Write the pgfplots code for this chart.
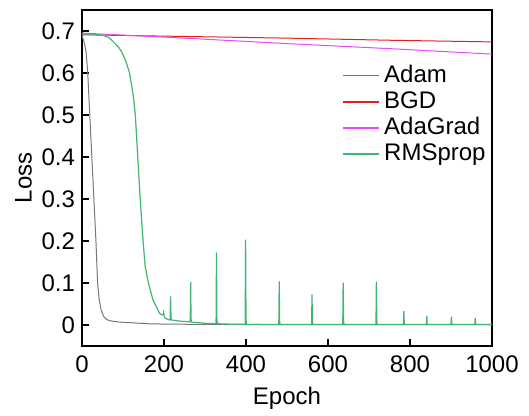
\documentclass[border=0pt]{standalone}
\usepackage{pgfplots}
\pgfplotsset{compat=1.18}
\usetikzlibrary{calc}
\usepackage{fontspec}
\setmainfont{Liberation Sans}
\definecolor{adamgray}{RGB}{120,120,120}
\definecolor{bgdred}{RGB}{230,30,30}
\definecolor{adamag}{RGB}{228,75,250}
\definecolor{rmsgreen}{RGB}{65,182,115}

\begin{document}
\begin{tikzpicture}
\begin{axis}[
    scale only axis,
    width=205pt, height=168pt,
    xmin=0, xmax=1000,
    ymin=-0.05, ymax=0.75,
    xtick={0,200,...,1000},
    ytick={0,0.1,0.2,0.3,0.4,0.5,0.6,0.7},
    tick pos=left,
    tick align=inside,
    major tick length=3.5pt,
    axis line style={line width=0.7pt},
    every tick/.style={black, line width=0.7pt},
    /pgf/number format/assume math mode=true,
    /pgf/number format/1000 sep={},
    tick label style={font=\fontsize{12}{14}\selectfont},
    xticklabel style={yshift=-1.5pt},
    label style={font=\fontsize{12}{14}\selectfont},
    xlabel={Epoch},
    ylabel={Loss},
    ylabel style={yshift=-2pt},
    legend style={at={(0.62,0.86)}, anchor=north west, draw=none, fill=none,
        font=\fontsize{12}{14}\selectfont, row sep=-1pt},
    legend cell align=left,
    legend image code/.code={\draw[#1, line width=0.8pt] (0pt,0pt) -- (18pt,0pt);},
]
\addplot[adamgray, line width=0.5pt] coordinates {
    (0,0.690) (3,0.680) (6,0.670) (10,0.650) (14,0.600) (19,0.500) (24,0.400)
    (29,0.300) (34,0.200) (38,0.100) (42,0.060) (47,0.035) (53,0.020) (60,0.013)
    (69,0.010) (90,0.007) (126,0.005) (160,0.003) (207,0.002) (300,0.0015)
    (500,0.001) (1000,0.001)
};
\addplot[bgdred, line width=0.5pt] coordinates {
    (0,0.691) (250,0.687) (500,0.683) (750,0.678) (1000,0.674)
};
\addplot[adamag, line width=0.5pt] coordinates {
    (0,0.695) (250,0.683) (500,0.670) (750,0.658) (1000,0.645)
};
\addplot[rmsgreen, line width=0.6pt] coordinates {
    (0,0.693) (30,0.692) (50,0.690) (65,0.685) (77,0.674) (88,0.663) (97,0.650)
    (107,0.628) (116,0.600) (122,0.565) (126,0.538) (130,0.500) (136,0.400)
    (142,0.300) (149,0.200) (154,0.140) (162,0.100) (173,0.060) (181,0.044)
    (189,0.028) (195,0.024) (198,0.025) (199,0.030) (201,0.020) (203,0.016)
    (210,0.013) (215,0.012) (216,0.068) (217,0.020) (218,0.012) (240,0.009)
    (264,0.0075) (265,0.102) (266,0.015) (267,0.007) (300,0.004) (327,0.003)
    (328,0.173) (329,0.015) (330,0.003) (360,0.002) (398,0.0015) (399,0.203)
    (400,0.015) (401,0.0015) (450,0.001) (480,0.001) (481,0.104) (482,0.010)
    (483,0.001) (560,0.001) (561,0.073) (562,0.008) (563,0.001) (636,0.001)
    (637,0.101) (638,0.010) (639,0.001) (717,0.001) (718,0.103) (719,0.010)
    (720,0.001) (784,0.001) (785,0.033) (786,0.004) (787,0.001) (840,0.001)
    (841,0.0215) (842,0.003) (843,0.001) (900,0.001) (901,0.020) (902,0.003)
    (903,0.001) (958,0.001) (959,0.0175) (960,0.003) (961,0.001) (1000,0.001)
};
\legend{Adam, BGD, AdaGrad, RMSprop}
\end{axis}
\path ($(current axis.south west)+(-41pt,-30pt)$) rectangle ($(current axis.north east)+(18.5pt,5pt)$);
\end{tikzpicture}
\end{document}
